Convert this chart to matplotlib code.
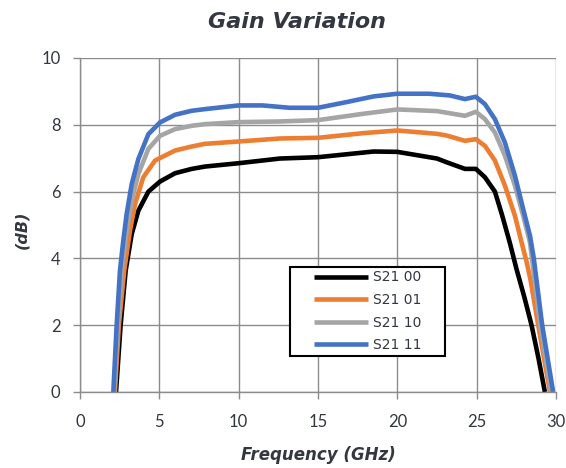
import matplotlib
matplotlib.use("Agg")
import matplotlib.pyplot as plt
from matplotlib.patches import Rectangle

# gain (dB) vs frequency (GHz) for the four control states
freq_00 = [2.27, 2.56, 2.88, 3.26, 3.68, 4.31, 5.04, 5.99, 7.04, 7.88, 10, 12.6,
           15, 18.5, 20, 22.5, 23.1, 24.26, 24.95, 25.52, 26.15, 26.6, 27.1,
           27.5, 28.0, 28.46, 28.9, 29.3]
gain_00 = [0, 2.0, 3.64, 4.73, 5.43, 6.0, 6.3, 6.55, 6.68, 6.75, 6.85, 6.99,
           7.03, 7.2, 7.19, 6.99, 6.88, 6.68, 6.68, 6.43, 6.0, 5.3, 4.45,
           3.7, 2.85, 2.0, 1.0, 0]

freq_01 = [2.2, 2.45, 2.79, 3.15, 3.47, 3.99, 4.73, 5.99, 7.04, 7.88, 10, 12.6,
           15, 17.85, 20, 22.5, 23.1, 24.26, 24.95, 25.52, 26.15, 26.78, 27.41,
           27.83, 28.15, 28.4, 28.88, 29.62]
gain_01 = [0, 2.0, 3.64, 4.83, 5.63, 6.43, 6.93, 7.23, 7.35, 7.43, 7.5, 7.59,
           7.61, 7.75, 7.83, 7.73, 7.68, 7.52, 7.57, 7.37, 6.93, 6.18, 5.28,
           4.48, 3.89, 3.34, 2.0, 0]

freq_10 = [2.15, 2.38, 2.63, 2.94, 3.26, 3.68, 4.31, 5.04, 5.99, 7.04, 7.88, 10,
           12.6, 15, 17.85, 20, 22.5, 24.26, 24.95, 25.52, 26.15, 26.78, 27.41,
           27.93, 28.36, 29.0, 29.7]
gain_10 = [0, 2.0, 3.64, 4.83, 5.73, 6.53, 7.28, 7.67, 7.87, 7.97, 8.02, 8.08,
           8.1, 8.14, 8.33, 8.46, 8.41, 8.27, 8.39, 8.17, 7.77, 7.08, 6.18,
           5.28, 4.48, 2.0, 0]

freq_11 = [2.1, 2.31, 2.52, 2.73, 2.94, 3.26, 3.68, 4.31, 5.04, 5.99, 7.04, 7.88,
           10, 11.5, 13.2, 15, 16.8, 18.5, 20, 22, 23.3, 24.26, 24.95, 25.52,
           26.15, 26.78, 27.41, 27.93, 28.36, 28.6, 29.13, 29.82]
gain_11 = [0, 2.0, 3.64, 4.54, 5.33, 6.23, 6.98, 7.72, 8.07, 8.3, 8.42, 8.47,
           8.58, 8.58, 8.51, 8.51, 8.68, 8.85, 8.93, 8.93, 8.88, 8.77, 8.84,
           8.62, 8.17, 7.47, 6.48, 5.48, 4.68, 4.0, 2.0, 0]

series = [
    ("S21 00", freq_00, gain_00, "#000000"),
    ("S21 01", freq_01, gain_01, "#ed7d31"),
    ("S21 10", freq_10, gain_10, "#a5a5a5"),
    ("S21 11", freq_11, gain_11, "#4472c4"),
]

x_ticks = [0, 5, 10, 15, 20, 25, 30]
y_ticks = [0, 2, 4, 6, 8, 10]

plt.rcParams["font.family"] = ["Lato", "DejaVu Sans"]
text_col = "#333740"
grid_col = "#8c8c8c"

fig = plt.figure(figsize=(5.66, 4.68), dpi=100)
ax = fig.add_axes([80 / 566, 1 - 392 / 468, 476 / 566, 334 / 468])

for label, f, g, c in series:
    ax.plot(f, g, color=c, linewidth=3.3, label=label,
            solid_capstyle="butt", solid_joinstyle="round")

ax.set_xlim(0, 30)
ax.set_ylim(0, 10)
ax.set_xticks(x_ticks)
ax.set_yticks(y_ticks)
ax.grid(True, color=grid_col, linewidth=1.0)
ax.set_axisbelow(True)

for side in ["top", "right"]:
    ax.spines[side].set_visible(False)
for side in ["left", "bottom"]:
    ax.spines[side].set_color(grid_col)
    ax.spines[side].set_linewidth(1.0)

ax.tick_params(axis="both", colors=grid_col, length=5, width=1.0,
               labelsize=12, labelcolor=text_col)
ax.tick_params(axis="x", pad=11)
ax.tick_params(axis="y", pad=9)

fig.text(297 / 566, 1 - 22 / 468, "Gain Variation", ha="center", va="center",
         fontsize=16, fontweight="bold", fontstyle="italic", color=text_col,
         family="DejaVu Sans")
fig.text(318 / 566, 1 - 455 / 468, "Frequency (GHz)", ha="center", va="center",
         fontsize=12, fontweight="bold", fontstyle="italic", color=text_col,
         family="DejaVu Sans")
fig.text(22 / 566, 1 - 230 / 468, "(dB)", ha="center", va="center", rotation=90,
         fontsize=11.5, fontweight="bold", fontstyle="italic", color=text_col,
         family="DejaVu Sans")

# legend box drawn separately so its padding can be set freely
box = Rectangle((0.441, 0.108), 0.326, 0.266, transform=ax.transAxes,
                facecolor="white", edgecolor="black", linewidth=1.5, zorder=5)
ax.add_patch(box)
leg = ax.legend(loc="upper left", bbox_to_anchor=(0.4916, 0.364),
                prop={"family": "DejaVu Sans", "size": 10}, frameon=False,
                handlelength=3.9, handletextpad=0.34, labelspacing=0.62,
                borderpad=0, borderaxespad=0)
leg.set_zorder(6)
for t in leg.get_texts():
    t.set_color(text_col)

fig.savefig("out.png", dpi=100)
